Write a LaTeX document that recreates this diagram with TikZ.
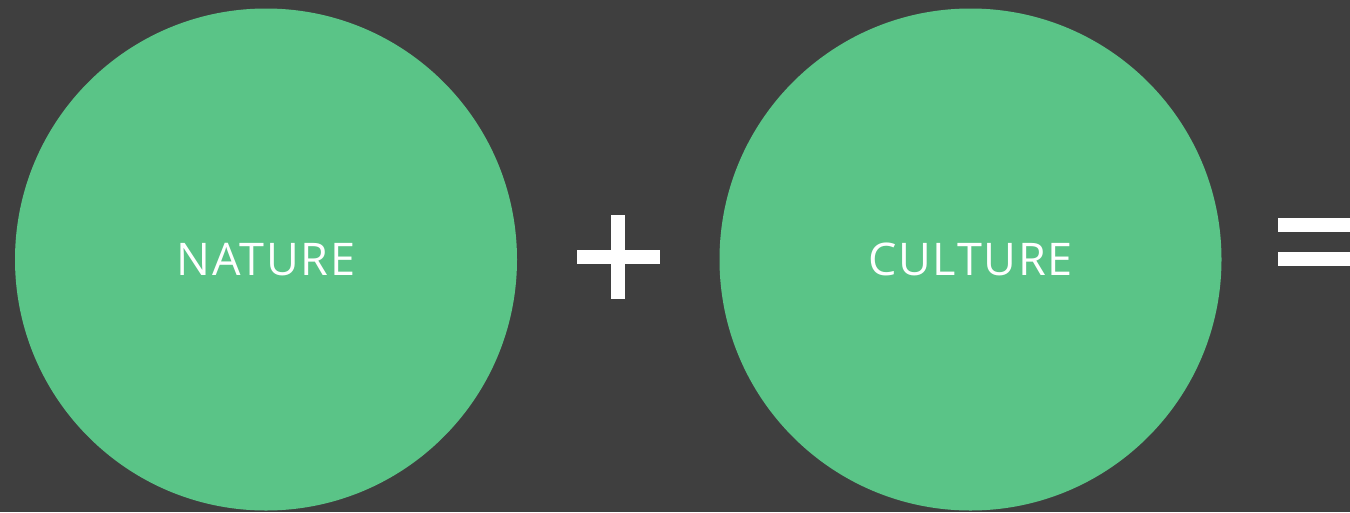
\documentclass[tikz,border=0pt]{standalone}
\usepackage{fontspec}
\setmainfont{Open Sans}[LetterSpace=4]
\definecolor{bg}{RGB}{63,63,63}
\definecolor{grn}{RGB}{90,196,135}
\begin{document}
\begin{tikzpicture}[x=1pt,y=-1pt,
  bubble/.style={circle,fill=grn,minimum size=502pt,inner sep=0pt,text=white,font=\fontsize{45}{45}\selectfont},
  bar/.style={fill=white,draw=none}]
\fill[bg] (0,0) rectangle (1350,512);
\useasboundingbox (0,0) rectangle (1350,512);
\node[bubble] (nature) at (266,259.5) {NATURE};
\node[bubble] (culture) at (970.5,259.5) {CULTURE};
\fill[bar] (577,250) rectangle (660,264);
\fill[bar] (611,215) rectangle (625,299);
\fill[bar] (1278,218) rectangle (1352,232);
\fill[bar] (1278,252) rectangle (1352,266);
\end{tikzpicture}
\end{document}
